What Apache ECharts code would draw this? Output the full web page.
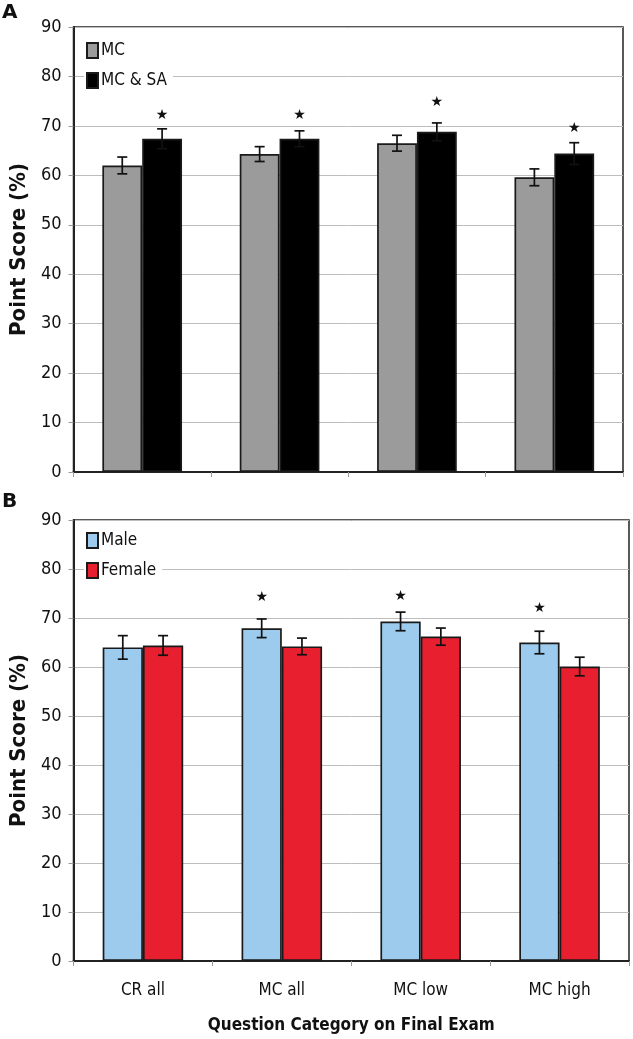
<!DOCTYPE html>
<html><head><meta charset="utf-8">
<script src="https://cdn.jsdelivr.net/npm/echarts@6/dist/echarts.min.js"></script>
<style>html,body{margin:0;padding:0;background:#fff}#c{width:633px;height:1039px}</style>
</head><body><div id="c"></div>
<script>
const categories = ['CR all', 'MC all', 'MC low', 'MC high'];
const yTicks = [0, 10, 20, 30, 40, 50, 60, 70, 80, 90];
// Panel A
const mcScores = [62.0, 64.3, 66.5, 59.6];
const mcErr = [1.7, 1.5, 1.6, 1.7];
const mcsaScores = [67.4, 67.4, 68.8, 64.4];
const mcsaErr = [2.0, 1.6, 1.8, 2.2];
const starsA = [72.2, 72.2, 74.7, 69.6];
// Panel B
const maleScores = [64.0, 67.9, 69.3, 65.0];
const maleErr = [2.4, 1.9, 1.9, 2.3];
const femaleScores = [64.4, 64.2, 66.2, 60.1];
const femaleErr = [2.0, 1.7, 1.75, 1.9];
const starsB = [null, 74.3, 74.5, 72.0];

const FONT = '"DejaVu Sans Condensed", "DejaVu Sans", sans-serif';
const BARW = 0.29;

function errSeries(vals, errs, side, gi) {
  return {
    type: 'custom', xAxisIndex: gi, yAxisIndex: gi, z: 5, silent: true,
    data: vals.map((v, i) => [i, v - errs[i], v + errs[i]]),
    encode: { x: 0, y: [1, 2] },
    renderItem: function (params, api) {
      const i = api.value(0);
      const band = api.size([1, 0])[0];
      const off = side * band * BARW / 2;
      const lo = api.coord([i, api.value(1)]);
      const hi = api.coord([i, api.value(2)]);
      const x = lo[0] + off, c = 5;
      const st = { stroke: '#111', lineWidth: 1.7 };
      return { type: 'group', children: [
        { type: 'line', shape: { x1: x, y1: lo[1], x2: x, y2: hi[1] }, style: st },
        { type: 'line', shape: { x1: x - c, y1: lo[1], x2: x + c, y2: lo[1] }, style: st },
        { type: 'line', shape: { x1: x - c, y1: hi[1], x2: x + c, y2: hi[1] }, style: st }
      ]};
    }
  };
}
function starSeries(vals, side, gi) {
  return {
    type: 'custom', xAxisIndex: gi, yAxisIndex: gi, z: 6, silent: true,
    data: vals.map((v, i) => v == null ? [i, '-'] : [i, v]),
    encode: { x: 0, y: 1 },
    renderItem: function (params, api) {
      const i = api.value(0);
      const v = api.value(1);
      if (isNaN(v)) return null;
      const band = api.size([1, 0])[0];
      const p = api.coord([i, v]);
      return { type: 'text', style: { text: '★', x: p[0] + side * band * BARW / 2, y: p[1],
        fill: '#111', font: 'bold 14px "DejaVu Sans", sans-serif', align: 'center', verticalAlign: 'middle' } };
    }
  };
}
function bar(name, vals, color, gi) {
  return { type: 'bar', name: name, data: vals, xAxisIndex: gi, yAxisIndex: gi,
    barWidth: (BARW * 100) + '%', barGap: '0%',
    itemStyle: { color: color, borderColor: '#1a1a1a', borderWidth: 1.7 } };
}
function xAx(gi, showLabels) {
  return {
    type: 'category', gridIndex: gi, data: categories,
    axisLine: { lineStyle: { color: '#222', width: 2 } },
    axisTick: { show: true, length: 5, lineStyle: { color: '#999', width: 1 } },
    axisLabel: { show: showLabels, color: '#111', fontSize: 17, fontFamily: FONT, margin: 21 },
    name: showLabels ? 'Question Category on Final Exam' : '',
    nameLocation: 'middle', nameGap: 56,
    nameTextStyle: { color: '#111', fontSize: 17, fontWeight: 'bold', fontFamily: FONT }
  };
}
function yAx(gi) {
  return {
    type: 'value', gridIndex: gi, min: yTicks[0], max: yTicks[yTicks.length - 1], interval: 10,
    axisLine: { show: true, lineStyle: { color: '#222', width: 2 } },
    axisTick: { show: true, length: 5, lineStyle: { color: '#999', width: 1 } },
    axisLabel: { color: '#111', fontSize: 18, fontFamily: FONT, margin: 12 },
    splitLine: { lineStyle: { color: '#bdbdbd', width: 1 } },
    name: 'Point Score (%)', nameLocation: 'middle', nameGap: 38,
    nameTextStyle: { color: '#111', fontSize: 22, fontWeight: 'bold', fontFamily: FONT }
  };
}
const legendCommon = {
  orient: 'vertical', itemWidth: 11, itemHeight: 15, itemGap: 13, icon: 'rect',
  backgroundColor: '#fff', padding: [2, 6, 2, 2],
  textStyle: { color: '#111', fontSize: 17, fontFamily: FONT, padding: [0, 0, 0, -2] }
};
const chart = echarts.init(document.getElementById('c'), null, { renderer: 'canvas' });
chart.setOption({
  animation: false,
  backgroundColor: '#fff',
  grid: [
    { left: 73, top: 27, width: 550, height: 445, show: true, borderColor: '#222', borderWidth: 1.5 },
    { left: 73, top: 520, width: 556, height: 441, show: true, borderColor: '#222', borderWidth: 1.5 }
  ],
  legend: [
    Object.assign({}, legendCommon, { left: 84, top: 40, data: ['MC', 'MC & SA'] }),
    Object.assign({}, legendCommon, { left: 84, top: 530, data: ['Male', 'Female'] })
  ],
  xAxis: [xAx(0, false), xAx(1, true)],
  yAxis: [yAx(0), yAx(1)],
  graphic: [
    { type: 'text', left: 2, top: 3, style: { text: 'A', font: 'bold 20px "DejaVu Sans", sans-serif', fill: '#111' } },
    { type: 'text', left: 2, top: 492, style: { text: 'B', font: 'bold 20px "DejaVu Sans", sans-serif', fill: '#111' } }
  ],
  series: [
    bar('MC', mcScores, '#9b9b9b', 0),
    bar('MC & SA', mcsaScores, '#000000', 0),
    errSeries(mcScores, mcErr, -1, 0),
    errSeries(mcsaScores, mcsaErr, 1, 0),
    starSeries(starsA, 1, 0),
    bar('Male', maleScores, '#9dcbee', 1),
    bar('Female', femaleScores, '#e81f2f', 1),
    errSeries(maleScores, maleErr, -1, 1),
    errSeries(femaleScores, femaleErr, 1, 1),
    starSeries(starsB, -1, 1)
  ]
});
</script></body></html>
